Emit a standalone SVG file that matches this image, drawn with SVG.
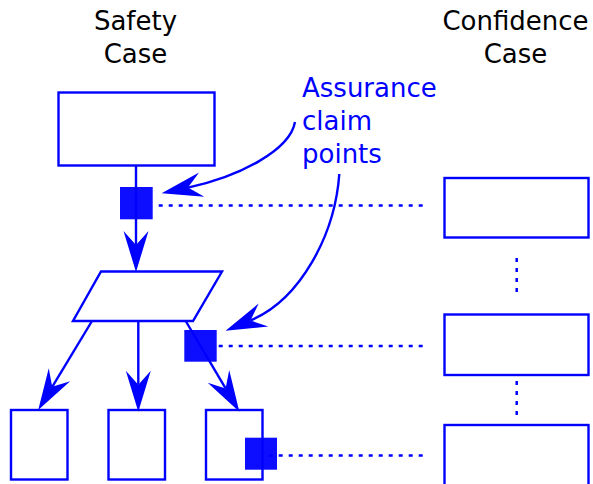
<svg xmlns="http://www.w3.org/2000/svg" width="593" height="484" viewBox="0 0 593 484">
  <style>
    .box { fill: #ffffff; stroke: #0000ff; stroke-width: 2.4; }
    .edge { fill: none; stroke: #0000ff; stroke-width: 2.4; }
    .dots { fill: none; stroke: #0000ff; stroke-width: 2.5; stroke-dasharray: 4 6; }
    .acp { fill: #0000ff; fill-opacity: 0.95; stroke: none; }
    .title { font-family: "DejaVu Sans", sans-serif; font-size: 26px; fill: #000000; text-anchor: middle; }
    .note { font-family: "DejaVu Sans", sans-serif; font-size: 26px; fill: #0000ff; }
  </style>
  <defs>
    <!-- barbed arrowhead; the path end sits at the notch, tip lies 27px ahead -->
    <marker id="head" markerUnits="userSpaceOnUse" markerWidth="60" markerHeight="40" viewBox="-20 -20 60 40" refX="0" refY="0" orient="auto" overflow="visible">
      <path d="M27,0 L-14,-12.5 L0,0 L-14,12.5 Z" fill="#0000ff"/>
    </marker>
  </defs>

  <!-- column headings -->
  <g id="heading-safety">
    <text class="title" x="135.5" y="30">Safety</text>
    <text class="title" x="135.5" y="63">Case</text>
  </g>
  <g id="heading-confidence">
    <text class="title" x="515.5" y="30">Confidence</text>
    <text class="title" x="515.5" y="63">Case</text>
  </g>

  <!-- safety case structure -->
  <g id="goal-top"><rect class="box" x="58.5" y="92.5" width="156" height="73"/></g>
  <g id="strategy"><polygon class="box" points="101,271.5 222,271.5 193,321 73,321"/></g>
  <g id="goal-left"><rect class="box" x="11" y="410" width="56.5" height="69.5"/></g>
  <g id="goal-mid"><rect class="box" x="108.5" y="410" width="56.5" height="69.5"/></g>
  <g id="goal-right"><rect class="box" x="206" y="410" width="56.5" height="69.5"/></g>

  <!-- confidence case structure -->
  <g id="conf-1"><rect class="box" x="444.5" y="178" width="144" height="59.5"/></g>
  <g id="conf-2"><rect class="box" x="444.5" y="314.5" width="144" height="60.5"/></g>
  <g id="conf-3"><rect class="box" x="444.5" y="425" width="144" height="70"/></g>

  <g id="connectors">
    <path class="edge" d="M136,165.5 V245" marker-end="url(#head)"/>
    <path class="edge" d="M91.7,321.5 L52.2,386.8" marker-end="url(#head)"/>
    <path class="edge" d="M138.3,321.5 V384.7" marker-end="url(#head)"/>
    <path class="edge" d="M186,321.5 L225.6,388.4" marker-end="url(#head)"/>
    <!-- links to the confidence case, dashed from the right end -->
    <path class="dots" d="M422.7,205.5 H152.7"/>
    <path class="dots" d="M422.7,346 H212.7"/>
    <path class="dots" d="M422.7,455.5 H262.7"/>
    <path class="dots" d="M516.7,258 V294"/>
    <path class="dots" d="M516.7,381 V415"/>
    <!-- callout arrows -->
    <path class="edge" d="M295,122 C290,150 240,176.4 188,187.6" marker-end="url(#head)"/>
    <path class="edge" d="M339.3,174 C335,235 300,300 250.5,320.4" marker-end="url(#head)"/>
  </g>

  <!-- assurance claim points -->
  <g id="acp-1"><rect class="acp" x="120" y="187" width="32.7" height="32.3"/></g>
  <g id="acp-2"><rect class="acp" x="184.3" y="330" width="32.4" height="31.7"/></g>
  <g id="acp-3"><rect class="acp" x="245" y="437.7" width="32" height="32"/></g>

  <g id="callout">
    <text class="note" x="302" y="97">Assurance</text>
    <text class="note" x="302" y="130">claim</text>
    <text class="note" x="302" y="163">points</text>
  </g>
</svg>
